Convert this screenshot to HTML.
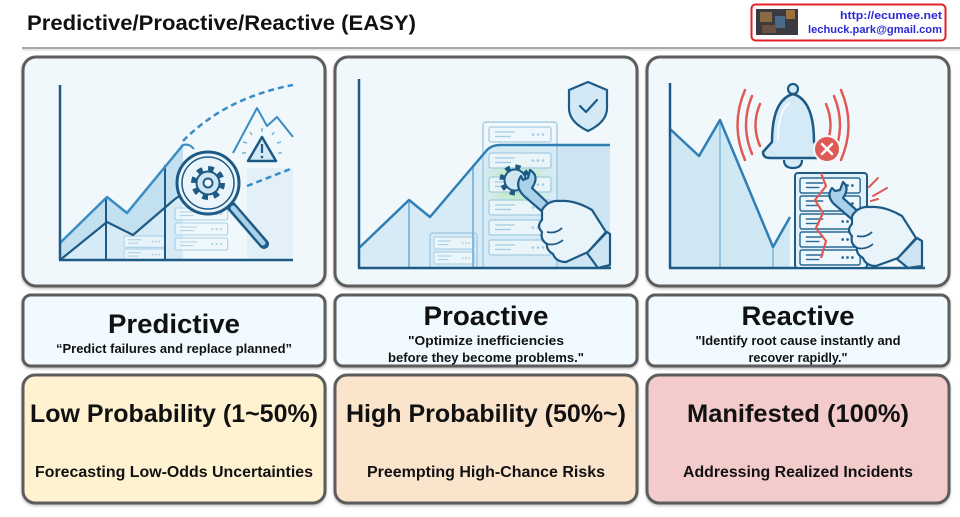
<!DOCTYPE html>
<html><head><meta charset="utf-8"><style>
html,body{margin:0;padding:0;background:#fff;width:960px;height:517px;overflow:hidden}
svg{display:block}
text{font-family:"Liberation Sans",Arial,sans-serif;font-weight:bold;fill:#111}
</style></head><body>
<svg width="960" height="517" viewBox="0 0 960 517" xmlns="http://www.w3.org/2000/svg">
<defs>
<filter id="sh" x="-5%" y="-5%" width="110%" height="115%"><feDropShadow dx="0" dy="1.5" stdDeviation="1.2" flood-color="#000" flood-opacity="0.25"/></filter>
<radialGradient id="glow" cx="0.5" cy="0.5" r="0.5"><stop offset="0" stop-color="#a9e59f" stop-opacity="0.9"/><stop offset="1" stop-color="#c8efc2" stop-opacity="0"/></radialGradient>
<g id="unit"><rect x="0" y="0" width="62" height="15" rx="2" fill="#eef7fb" stroke="#9cc6e0" stroke-width="1.3"/><line x1="6" y1="5" x2="26" y2="5" stroke="#9cc6e0" stroke-width="1.3"/><line x1="6" y1="9.5" x2="22" y2="9.5" stroke="#9cc6e0" stroke-width="1.3"/><circle cx="44" cy="7.5" r="1.3" fill="#9cc6e0"/><circle cx="49" cy="7.5" r="1.3" fill="#9cc6e0"/><circle cx="54" cy="7.5" r="1.3" fill="#9cc6e0"/></g>
<g id="unitd"><rect x="0" y="0" width="62" height="15" rx="2" fill="#eef7fb" stroke="#2a6a96" stroke-width="1.5"/><line x1="6" y1="5" x2="24" y2="5" stroke="#2a6a96" stroke-width="1.4"/><line x1="6" y1="9.5" x2="20" y2="9.5" stroke="#2a6a96" stroke-width="1.4"/><circle cx="44" cy="7.5" r="1.4" fill="#2a6a96"/><circle cx="49" cy="7.5" r="1.4" fill="#2a6a96"/><circle cx="54" cy="7.5" r="1.4" fill="#2a6a96"/></g>
</defs>

<!-- Header -->
<text x="27" y="30" font-size="21" textLength="389" lengthAdjust="spacingAndGlyphs">Predictive/Proactive/Reactive (EASY)</text>
<line x1="22" y1="48" x2="960" y2="48" stroke="#8a8a8a" stroke-width="1.5"/>
<line x1="22" y1="50" x2="960" y2="50" stroke="#e2e2e2" stroke-width="1.5"/>
<rect x="751.5" y="4.5" width="194" height="36" rx="4" fill="#fff" stroke="#e3202a" stroke-width="2"/>
<rect x="756" y="9" width="42" height="26" fill="#3a3a40"/>
<rect x="760" y="12" width="12" height="10" fill="#8a6a45"/>
<rect x="775" y="16" width="10" height="12" fill="#4a6a8a"/>
<rect x="786" y="10" width="9" height="9" fill="#a0703a"/>
<rect x="762" y="25" width="14" height="8" fill="#6a5040"/>
<text x="942" y="19" font-size="11" fill="#2a2ad8" text-anchor="end" textLength="102" lengthAdjust="spacingAndGlyphs" style="fill:#2a2ad8">http://ecumee.net</text>
<text x="942" y="33" font-size="11" fill="#2a2ad8" text-anchor="end" textLength="134" lengthAdjust="spacingAndGlyphs" style="fill:#2a2ad8">lechuck.park@gmail.com</text>

<!-- Image panels -->
<g filter="url(#sh)">
<rect x="23" y="57" width="302" height="229" rx="13" fill="#f0f8fc" stroke="#5c5c5c" stroke-width="3"/>
<rect x="335" y="57" width="302" height="229" rx="13" fill="#f0f8fc" stroke="#5c5c5c" stroke-width="3"/>
<rect x="647" y="57" width="302" height="229" rx="13" fill="#f0f8fc" stroke="#5c5c5c" stroke-width="3"/>
</g>

<!-- Panel 1 -->
<g>
<rect x="247" y="168" width="46" height="92" fill="#e3f0f8"/>
<polygon points="60,243 107,197 127,213 183,145 183,260 60,260" fill="#d6ebf6"/>
<polygon points="60,243 107,197 127,213 183,145 183,188 173,200 133,235 107,222 60,260" fill="#c3e0f1"/>
<g opacity="0.8">
<use href="#unit" transform="translate(124,236) scale(0.65,0.75)"/>
<use href="#unit" transform="translate(124,249) scale(0.65,0.75)"/>
<use href="#unit" transform="translate(175,208) scale(0.85,0.8)"/>
<use href="#unit" transform="translate(175,223) scale(0.85,0.8)"/>
<use href="#unit" transform="translate(175,238) scale(0.85,0.8)"/>
</g>
<line x1="106" y1="197" x2="106" y2="260" stroke="#1d5a85" stroke-width="2"/>
<line x1="165" y1="165" x2="165" y2="260" stroke="#1d5a85" stroke-width="2"/>
<polyline points="60,243 107,197 127,213 183,145" fill="none" stroke="#3a8cc4" stroke-width="2.5" stroke-linejoin="round"/>
<path d="M181,146 Q188,142 194,149" fill="none" stroke="#3a8cc4" stroke-width="2"/>
<polyline points="60,260 107,222 133,235 175,199 188,190" fill="none" stroke="#1d5a85" stroke-width="2.2" stroke-linejoin="round"/>
<path d="M183,141 Q225,98 293,85" fill="none" stroke="#3a8cc4" stroke-width="2.5" stroke-dasharray="6,4"/>
<path d="M247,186 L293,168" fill="none" stroke="#3a8cc4" stroke-width="2.5" stroke-dasharray="6,4"/>
<polyline points="233,153 257,108 267,126 277,117 293,137" fill="none" stroke="#3a8cc4" stroke-width="2" stroke-linejoin="round"/>
<g stroke="#7ab4d8" stroke-width="1.5">
<line x1="262" y1="128" x2="262" y2="132"/><line x1="250" y1="132" x2="252" y2="135"/><line x1="274" y1="132" x2="272" y2="135"/>
<line x1="243" y1="142" x2="247" y2="143"/><line x1="281" y1="142" x2="277" y2="143"/>
<line x1="242" y1="153" x2="246" y2="153"/><line x1="282" y1="153" x2="278" y2="153"/>
</g>
<path d="M262,137 L276,161 L248,161 Z" fill="#d3e9f6" stroke="#1d5a85" stroke-width="2.5" stroke-linejoin="round"/>
<line x1="262" y1="144" x2="262" y2="153" stroke="#1d5a85" stroke-width="2.2"/>
<circle cx="262" cy="157" r="1.3" fill="#1d5a85"/>
<line x1="60" y1="85" x2="60" y2="260" stroke="#1d5a85" stroke-width="2.5"/>
<line x1="59" y1="260" x2="293" y2="260" stroke="#1d5a85" stroke-width="2.5"/>
<line x1="231" y1="206" x2="264" y2="244" stroke="#1d5a85" stroke-width="10" stroke-linecap="round"/>
<line x1="233" y1="208" x2="263" y2="243" stroke="#a9d2ea" stroke-width="5" stroke-linecap="round"/>
<circle cx="208" cy="183" r="31" fill="#eaf5fb" stroke="#1d5a85" stroke-width="3"/>
<circle cx="208" cy="183" r="26" fill="none" stroke="#1d5a85" stroke-width="1.5"/>
<circle cx="208" cy="183" r="14" fill="none" stroke="#1d5a85" stroke-width="6" stroke-dasharray="5.5,5.5"/>
<circle cx="208" cy="183" r="11.5" fill="#cfe6f3" stroke="#1d5a85" stroke-width="2"/>
<circle cx="208" cy="183" r="4.5" fill="#f4fafd" stroke="#1d5a85" stroke-width="2"/>
</g>

<!-- Panel 2 -->
<g>
<polygon points="359,248 409,200 430,217 487,150 500,145 610,145 610,268 359,268" fill="#d6ebf6"/>
<rect x="557" y="145" width="53" height="123" fill="#cde4f2"/>
<circle cx="517" cy="183" r="38" fill="url(#glow)"/>
<g opacity="0.85">
<rect x="483" y="122" width="74" height="146" rx="3" fill="none" stroke="#9cc6e0" stroke-width="1.5"/>
<use href="#unit" transform="translate(489,127)"/>
<use href="#unit" transform="translate(489,153)"/>
<use href="#unit" transform="translate(489,177)"/>
<use href="#unit" transform="translate(489,200)"/>
<use href="#unit" transform="translate(489,220)"/>
<use href="#unit" transform="translate(489,240)"/>
<rect x="430" y="233" width="47" height="35" rx="3" fill="none" stroke="#9cc6e0" stroke-width="1.5"/>
<use href="#unit" transform="translate(434,237) scale(0.65,0.8)"/>
<use href="#unit" transform="translate(434,252) scale(0.65,0.8)"/>
</g>
<line x1="409" y1="200" x2="409" y2="268" stroke="#7ab4d8" stroke-width="1.8"/>
<line x1="473" y1="165" x2="473" y2="268" stroke="#7ab4d8" stroke-width="1.8"/>
<path d="M359,248 L409,200 L430,217 L487,150 Q492,145 500,145 L610,145" fill="none" stroke="#2f7fb5" stroke-width="2.5" stroke-linejoin="round"/>
<line x1="359" y1="79" x2="359" y2="268" stroke="#1d5a85" stroke-width="2.5"/>
<line x1="358" y1="268" x2="611" y2="268" stroke="#1d5a85" stroke-width="2.5"/>
<path d="M588,82 L607,90 L607,108 Q607,122 588,131 Q569,122 569,108 L569,90 Z" fill="#d3e9f6" stroke="#1d5a85" stroke-width="2.2" stroke-linejoin="round"/>
<path d="M580,106 L586,112 L597,100" fill="none" stroke="#1d5a85" stroke-width="2.2" stroke-linecap="round" stroke-linejoin="round"/>
<circle cx="515" cy="180" r="13" fill="none" stroke="#1d5a85" stroke-width="5" stroke-dasharray="5,5.2"/>
<circle cx="515" cy="180" r="10.5" fill="#cfe6f3" stroke="#1d5a85" stroke-width="2"/>
<path d="M521,176 Q514,186 524,196 L545,214 L552,207 L532,188 Q540,176 530,170 L528,178 L523,180 Z" fill="#a9d2ea" stroke="#1d5a85" stroke-width="2.2" stroke-linejoin="round"/>
<path d="M542,210 Q548,200 560,201 Q575,200 592,210 L606,232 L588,252 L566,262 Q556,262 553,254 Q546,250 547,244 Q540,240 542,232 Q536,226 542,220 Z" fill="#e8f3fa" stroke="#1d5a85" stroke-width="2.2" stroke-linejoin="round"/>
<path d="M547,232 Q556,234 562,228 M547,244 Q556,246 563,240" fill="none" stroke="#1d5a85" stroke-width="1.8"/>
<path d="M587,253 L607,232 L610,234 L610,265 L598,268 Z" fill="#cde4f2" stroke="#1d5a85" stroke-width="2.2" stroke-linejoin="round"/>
</g>

<!-- Panel 3 -->
<g>
<polygon points="670,129 699,156 720,120 773,247 790,217 790,268 670,268" fill="#d0e7f4"/>
<line x1="720" y1="120" x2="720" y2="268" stroke="#8cc0e0" stroke-width="1.8"/>
<line x1="773" y1="247" x2="773" y2="268" stroke="#8cc0e0" stroke-width="1.8"/>
<polyline points="670,129 699,156 720,120 773,247 790,217" fill="none" stroke="#2f7fb5" stroke-width="2.5" stroke-linejoin="round"/>
<line x1="670" y1="83" x2="670" y2="268" stroke="#1d5a85" stroke-width="2.5"/>
<line x1="669" y1="268" x2="925" y2="268" stroke="#1d5a85" stroke-width="2.5"/>
<g fill="none" stroke="#e05a55" stroke-width="2.5" stroke-linecap="round">
<path d="M760,104 Q751,125 760,146"/><path d="M752,96 Q740,125 752,154"/><path d="M745,90 Q730,125 745,160"/>
<path d="M826,104 Q835,125 826,146"/><path d="M834,96 Q846,125 834,154"/><path d="M841,90 Q856,125 841,160"/>
</g>
<circle cx="793" cy="89" r="5" fill="#d4eaf6" stroke="#1d5a85" stroke-width="2.2"/>
<path d="M784,160 Q784,168 793,168 Q802,168 802,160" fill="#d4eaf6" stroke="#1d5a85" stroke-width="2.2"/>
<path d="M772,142 Q772,100 793,94 Q814,100 814,142 L823,152 Q823,158 816,158 L770,158 Q763,158 763,152 Z" fill="#d4eaf6" stroke="#1d5a85" stroke-width="2.5" stroke-linejoin="round"/>
<path d="M778,140 Q778,110 790,103" fill="none" stroke="#f4fafd" stroke-width="2"/>
<circle cx="827" cy="149" r="13" fill="#e05a55" stroke="#f0f8fc" stroke-width="2"/>
<path d="M822,144 L832,154 M832,144 L822,154" stroke="#fff" stroke-width="2.5" stroke-linecap="round"/>
<rect x="795" y="173" width="72" height="95" rx="3" fill="#e3f0f8" stroke="#1d5a85" stroke-width="2"/>
<use href="#unitd" transform="translate(800,178) scale(0.97,1)"/>
<use href="#unitd" transform="translate(800,196) scale(0.97,1)"/>
<use href="#unitd" transform="translate(800,214) scale(0.97,1)"/>
<use href="#unitd" transform="translate(800,232) scale(0.97,1)"/>
<use href="#unitd" transform="translate(800,250) scale(0.97,1)"/>
<polyline points="821,173 826,186 815,200 823,213 816,228 826,241 821,258" fill="none" stroke="#e05a55" stroke-width="2.2" stroke-linejoin="round"/>
<g stroke="#e05a55" stroke-width="2" stroke-linecap="round">
<line x1="869" y1="187" x2="878" y2="178"/><line x1="873" y1="196" x2="887" y2="188"/><line x1="871" y1="201" x2="878" y2="199"/>
</g>
<path d="M832,188 Q826,196 834,204 L855,222 L862,215 L843,198 Q850,188 843,182 L840,190 L835,191 Z" fill="#a9d2ea" stroke="#1d5a85" stroke-width="2.2" stroke-linejoin="round"/>
<path d="M852,216 Q858,206 870,207 Q885,206 902,216 L916,238 L898,258 L876,266 Q866,266 863,258 Q856,254 857,248 Q850,244 852,236 Q846,230 852,224 Z" fill="#e8f3fa" stroke="#1d5a85" stroke-width="2.2" stroke-linejoin="round"/>
<path d="M857,236 Q866,238 872,232 M857,248 Q866,250 873,244" fill="none" stroke="#1d5a85" stroke-width="1.8"/>
<path d="M897,259 L917,238 L922,241 L922,266 L908,268 Z" fill="#cde4f2" stroke="#1d5a85" stroke-width="2.2" stroke-linejoin="round"/>
</g>

<!-- Title boxes -->
<g filter="url(#sh)">
<rect x="23" y="295" width="302" height="71" rx="8" fill="#f1fbff" stroke="#5c5c5c" stroke-width="3"/>
<rect x="335" y="295" width="302" height="71" rx="8" fill="#f1fbff" stroke="#5c5c5c" stroke-width="3"/>
<rect x="647" y="295" width="302" height="71" rx="8" fill="#f1fbff" stroke="#5c5c5c" stroke-width="3"/>
<rect x="23" y="375" width="302" height="128" rx="12" fill="#fff2d0" stroke="#5c5c5c" stroke-width="3"/>
<rect x="335" y="375" width="302" height="128" rx="12" fill="#fbe4cc" stroke="#5c5c5c" stroke-width="3"/>
<rect x="647" y="375" width="302" height="128" rx="12" fill="#f3cbcb" stroke="#5c5c5c" stroke-width="3"/>
</g>

<text x="174" y="333" font-size="27" text-anchor="middle" textLength="132" lengthAdjust="spacingAndGlyphs">Predictive</text>
<text x="174" y="353" font-size="13" text-anchor="middle" textLength="236" lengthAdjust="spacingAndGlyphs">“Predict failures and replace planned”</text>

<text x="486" y="325" font-size="27" text-anchor="middle" textLength="125" lengthAdjust="spacingAndGlyphs">Proactive</text>
<text x="486" y="345" font-size="13" text-anchor="middle" textLength="156" lengthAdjust="spacingAndGlyphs">"Optimize inefficiencies</text>
<text x="486" y="362" font-size="13" text-anchor="middle" textLength="196" lengthAdjust="spacingAndGlyphs">before they become problems."</text>

<text x="798" y="325" font-size="27" text-anchor="middle" textLength="113" lengthAdjust="spacingAndGlyphs">Reactive</text>
<text x="798" y="345" font-size="13" text-anchor="middle" textLength="205" lengthAdjust="spacingAndGlyphs">"Identify root cause instantly and</text>
<text x="798" y="362" font-size="13" text-anchor="middle" textLength="99" lengthAdjust="spacingAndGlyphs">recover rapidly."</text>

<text x="174" y="422" font-size="25" text-anchor="middle" textLength="288" lengthAdjust="spacingAndGlyphs">Low Probability (1~50%)</text>
<text x="174" y="477" font-size="16" text-anchor="middle" textLength="278" lengthAdjust="spacingAndGlyphs">Forecasting Low-Odds Uncertainties</text>

<text x="486" y="422" font-size="25" text-anchor="middle" textLength="280" lengthAdjust="spacingAndGlyphs">High Probability (50%~)</text>
<text x="486" y="477" font-size="16" text-anchor="middle" textLength="238" lengthAdjust="spacingAndGlyphs">Preempting High-Chance Risks</text>

<text x="798" y="422" font-size="25" text-anchor="middle" textLength="222" lengthAdjust="spacingAndGlyphs">Manifested (100%)</text>
<text x="798" y="477" font-size="16" text-anchor="middle" textLength="230" lengthAdjust="spacingAndGlyphs">Addressing Realized Incidents</text>
</svg>
</body></html>
